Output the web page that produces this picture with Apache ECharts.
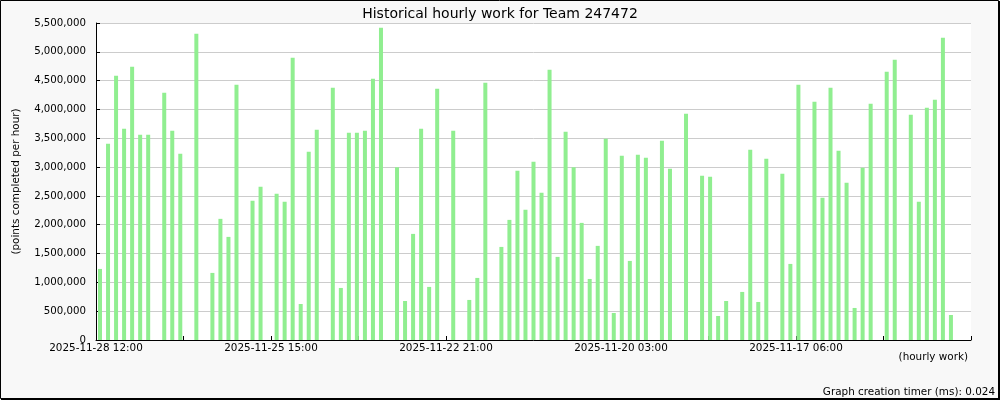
<!DOCTYPE html>
<html>
<head>
<meta charset="utf-8">
<script src="https://cdn.jsdelivr.net/npm/echarts@6/dist/echarts.min.js"></script>
<style>
html,body{margin:0;padding:0;background:#f8f8f8;}
#c{width:1000px;height:400px;}
</style>
</head>
<body>
<div id="c"></div>
<script>
// Hourly work values, one per bar slot (0 = no bar)
const hourlyWork = [
  1233000, 3404000, 4585000, 3665000, 4742000, 3561000, 3561000, 0, 4290000, 3630000,
  3231000, 0, 5315000, 0, 1164000, 2102000, 1789000, 4429000, 0, 2414000,
  2657000, 0, 2536000, 2397000, 4898000, 625000, 3265000, 3647000, 0, 4377000,
  903000, 3595000, 3595000, 3630000, 4533000, 5419000, 0, 2999000, 677000, 1841000,
  3665000, 921000, 4360000, 0, 3630000, 0, 695000, 1077000, 4464000, 0,
  1615000, 2084000, 2935000, 2258000, 3092000, 2553000, 4690000, 1442000, 3613000, 2999000,
  2032000, 1059000, 1633000, 3491000, 469000, 3196000, 1372000, 3213000, 3161000, 0,
  3456000, 2970000, 0, 3925000, 0, 2848000, 2831000, 417000, 677000, 0,
  834000, 3300000, 660000, 3144000, 0, 2883000, 1320000, 4429000, 0, 4134000,
  2466000, 4377000, 3283000, 2727000, 556000, 2987000, 4099000, 0, 4655000, 4863000,
  0, 3908000, 2397000, 4030000, 4168000, 5245000, 434000, 0, 0
];
// Slot identifiers for the category axis
const slots = hourlyWork.map((_, i) => 'slot' + i);
// Tick labels shown under every second major tick
const tickLabels = ['2025-11-28 12:00', '2025-11-25 15:00', '2025-11-22 21:00', '2025-11-20 03:00', '2025-11-17 06:00'];

const FONT = 'DejaVu Sans';
const chart = echarts.init(document.getElementById('c'), null, {renderer: 'canvas'});
const fmt = v => String(v).replace(/\B(?=(\d{3})+(?!\d))/g, ',');

chart.setOption({
  backgroundColor: '#f8f8f8',
  animation: false,
  title: {
    text: 'Historical hourly work for Team 247472',
    left: 'center', top: 2,
    textStyle: {fontFamily: FONT, fontSize: 14, fontWeight: 'normal', color: '#000'}
  },
  grid: {left: 96, right: 29, top: 23, bottom: 60, show: true, backgroundColor: '#ffffff', borderWidth: 0},
  xAxis: [
    {
      type: 'category', data: slots, boundaryGap: true,
      axisLine: {show: true, lineStyle: {color: '#000', width: 1}},
      axisTick: {show: false}, axisLabel: {show: false}, splitLine: {show: false}
    },
    {
      type: 'value', position: 'bottom', min: 0, max: 10, interval: 1,
      axisLine: {show: false},
      axisTick: {show: true, inside: true, length: 4, lineStyle: {color: '#000'}},
      axisLabel: {
        show: true, margin: 3, fontFamily: FONT, fontSize: 10.4, color: '#000',
        formatter: v => (v % 2 === 0 && v / 2 < tickLabels.length) ? tickLabels[v / 2] : ''
      },
      splitLine: {show: false}
    }
  ],
  yAxis: {
    type: 'value', min: 0, max: 5500000, interval: 500000,
    name: '(points completed per hour)', nameLocation: 'middle', nameGap: 75, nameRotate: 90,
    nameTextStyle: {fontFamily: FONT, fontSize: 10.4, color: '#000'},
    axisLine: {show: true, lineStyle: {color: '#000'}},
    axisTick: {show: true, inside: true, length: 4, lineStyle: {color: '#000'}},
    axisLabel: {margin: 10, fontFamily: FONT, fontSize: 10.2, color: '#000', formatter: fmt},
    splitLine: {show: true, lineStyle: {color: '#cccccc', width: 1}}
  },
  series: [{
    type: 'bar', xAxisIndex: 0, data: hourlyWork, barWidth: 4,
    itemStyle: {color: '#90ee90'}
  }],
  graphic: [
    {type: 'text', right: 32, top: 352, style: {text: '(hourly work)', font: '10.4px "DejaVu Sans"', fill: '#000'}},
    {type: 'text', right: 5, top: 387, style: {text: 'Graph creation timer (ms): 0.024', font: '10.4px "DejaVu Sans"', fill: '#000'}},
    {type: 'rect', shape: {x: 0.5, y: 0.5, width: 998, height: 398}, style: {fill: null, stroke: '#000', lineWidth: 1}},
    {type: 'rect', shape: {x: 998, y: 1, width: 2, height: 399}, style: {fill: '#000'}},
    {type: 'rect', shape: {x: 1, y: 398, width: 999, height: 2}, style: {fill: '#000'}}
  ]
});
</script>
</body>
</html>
